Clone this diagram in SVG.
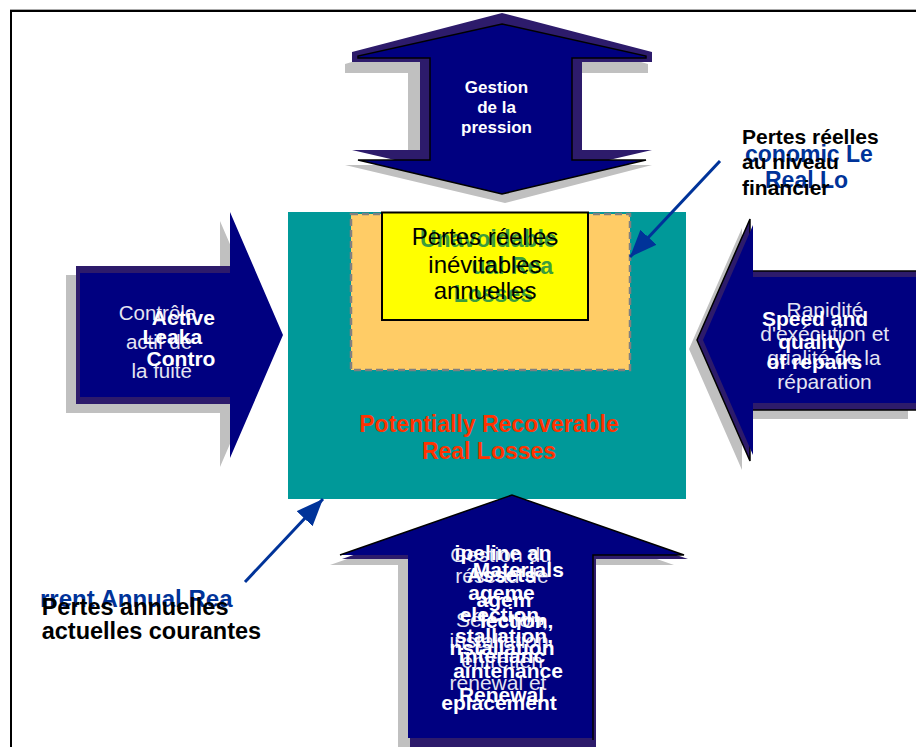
<svg xmlns="http://www.w3.org/2000/svg" width="916" height="747" viewBox="0 0 916 747">
<defs>
<style>
text{font-family:"Liberation Sans",Arial,sans-serif;}
.shadow{fill:#c0c0c0;}
.back{fill:#2d1b6b;}
.front{fill:#000080;}
.edge{fill:none;stroke:#000;stroke-width:1.5;stroke-linejoin:miter;}
.wb{fill:#fff;font-weight:bold;text-anchor:middle;}
.wr{fill:#e4e4f2;text-anchor:middle;}
.lbl{fill:#000;font-weight:bold;}
.blu{fill:#003399;font-weight:bold;}
.conn{stroke:#003399;stroke-width:3;fill:none;}
</style>
<marker id="ah" markerUnits="userSpaceOnUse" markerWidth="30" markerHeight="24" refX="27" refY="11" orient="auto">
<path d="M0,0 L27,11 L0,22 Z" fill="#003399"/>
</marker>
</defs>
<rect width="916" height="747" fill="#fff"/>
<g id="frame">
<line x1="10" y1="9.5" x2="916" y2="9.5" stroke="#aaa" stroke-width="1"/>
<line x1="10" y1="11" x2="916" y2="11" stroke="#000" stroke-width="2"/>
<line x1="11" y1="10" x2="11" y2="747" stroke="#000" stroke-width="2"/>
</g>

<g id="center-box">
<rect x="288" y="212" width="398" height="287" fill="#009999"/>
<rect x="351" y="214" width="279" height="156" fill="#FFCC66" stroke="#808080" stroke-width="2.5" stroke-dasharray="7,4"/>
<rect x="382" y="212.5" width="206" height="107.5" fill="#FFFF00" stroke="#000" stroke-width="2"/>
<g font-weight="bold" font-size="23" fill="#3c9c3c" text-anchor="middle">
<text x="488.3" y="247">Unavoidable</text>
<text x="553" y="274" text-anchor="end">ual Rea</text>
<text x="493.3" y="301.5">Losses</text>
</g>
<g font-size="24" fill="#000" text-anchor="middle">
<text x="485" y="245">Pertes réelles</text>
<text x="485" y="272.5">inévitables</text>
<text x="485" y="299">annuelles</text>
</g>
<g font-weight="bold" font-size="23" fill="#FF3300" text-anchor="middle">
<text x="489" y="432">Potentially Recoverable</text>
<text x="489" y="459">Real Losses</text>
</g>
</g>

<g id="arrow-top">
<path class="shadow" d="M495,20 L648,64 L648,73 L580,73 L580,165 L652,165 L505,203 L345,165 L408,165 L408,73 L345,73 L345,64 Z"/>
<path class="back" d="M502,13 L652,52 L652,62 L582,62 L582,150 L652,150 L502,185 L352,150 L420,150 L420,62 L352,62 L352,52 Z"/>
<path class="front" d="M502,24 L646,56 L646,58 L572,58 L572,160 L646,160 L502,194 L358,160 L430,160 L430,58 L358,58 L358,56 Z"/>
<path class="edge" d="M502,24 L646,56 L646,58 L572,58 L572,160 L646,160 L502,194 L358,160 L430,160 L430,58 L358,58 L358,56 Z"/>
<text class="wb" font-size="17" x="496.5" y="93">Gestion</text>
<text class="wb" font-size="17" x="496.5" y="112.7">de la</text>
<text class="wb" font-size="17" x="496.5" y="132.7">pression</text>
</g>

<g id="arrow-left">
<path class="shadow" d="M66,275 L220,275 L220,221 L273,344 L220,467 L220,413 L66,413 Z"/>
<rect class="back" x="76" y="266" width="156" height="138"/>
<path class="front" d="M80,273 L230,273 L230,212 L283,335 L230,458 L230,397 L80,397 Z"/>
<text class="wr" font-size="20.5" x="157.5" y="320">Contrôle</text>
<text class="wr" font-size="20.5" x="159" y="349">actif de</text>
<text class="wr" font-size="20.5" x="161.7" y="378">la fuite</text>
<text class="wb" font-size="21" x="183.3" y="325">Active</text>
<text class="wb" font-size="21" x="172.3" y="344">Leaka</text>
<text class="wb" font-size="21" x="181" y="365.7">Contro</text>
</g>

<g id="arrow-right">
<path class="shadow" d="M689,349 L742,228 L742,280 L908,280 L908,419 L742,419 L742,470 Z"/>
<path class="back" d="M697,340 L750,219 L750,271 L920,271 L920,410 L750,410 L750,461 Z"/>
<path class="edge" d="M920,271 L750,271 L750,219 L697,340 L750,461 L750,410 L920,410"/>
<path class="front" d="M703,340 L753,225 L753,277 L920,277 L920,403 L753,403 L753,455 Z"/>
<text class="wr" font-size="21" x="825" y="317">Rapidité</text>
<text class="wr" font-size="21" x="824.7" y="341">d'exécution et</text>
<text class="wr" font-size="21" x="824" y="365">qualité de la</text>
<text class="wr" font-size="21" x="824.5" y="389">réparation</text>
<text class="wb" font-size="21" x="815" y="326">Speed and</text>
<text class="wb" font-size="21" x="812" y="349">quality</text>
<text class="wb" font-size="21" x="814.3" y="369">of repairs</text>
</g>

<g id="arrow-bottom">
<path class="shadow" d="M502,505 L674,565 L583,565 L583,748 L398,748 L398,565 L330,565 Z"/>
<path class="back" d="M514,499 L688,559 L596,559 L596,750 L410,750 L410,559 L342,559 Z"/>
<path class="front" d="M512,495 L684,555 L593,555 L593,738 L408,738 L408,555 L340,555 Z"/>
<path class="edge" d="M340,555 L512,495 L684,555 L593,555 L593,740"/>
<text class="wr" font-size="21" x="501" y="562">Gestion du</text>
<text class="wr" font-size="21" x="502" y="583">réseau de</text>
<text class="wr" font-size="21" x="502" y="627">Sélection,</text>
<text class="wr" font-size="21" x="502" y="648">installation,</text>
<text class="wr" font-size="21" x="502" y="668">entretien</text>
<text class="wr" font-size="21" x="498" y="690">renewal et</text>
<text class="wb" font-size="21" x="503" y="560">ipeline an</text>
<text class="wb" font-size="21" x="518.3" y="577">Materials</text>
<text class="wb" font-size="21" x="501.5" y="582">Assets</text>
<text class="wb" font-size="21" x="501.5" y="600">ageme</text>
<text class="wb" font-size="21" x="504" y="607">agem</text>
<text class="wb" font-size="21" x="502.3" y="622">election,</text>
<text class="wb" font-size="21" x="516.7" y="628">lection,</text>
<text class="wb" font-size="21" x="504" y="643">stallation,</text>
<text class="wb" font-size="21" x="502" y="655">nstallation</text>
<text class="wb" font-size="21" x="502" y="663">intenanc</text>
<text class="wb" font-size="21" x="508" y="678">aintenance</text>
<text class="wb" font-size="21" x="501.5" y="702">Renewal</text>
<text class="wb" font-size="21" x="499" y="710">eplacement</text>
</g>

<g id="label-top-right">
<text class="blu" font-size="23" x="745" y="162">conomic Le</text>
<text class="blu" font-size="23" x="765" y="188">Real Lo</text>
<text class="lbl" font-size="21" x="742" y="144">Pertes réelles</text>
<text class="lbl" font-size="21" x="742" y="169.3">au niveau</text>
<text class="lbl" font-size="21" x="742" y="195">financier</text>
</g>

<g id="label-bottom-left">
<text class="blu" font-size="24" x="40" y="606.7">rrent Annual Rea</text>
<text class="lbl" font-size="23.5" x="41.7" y="615">Pertes annuelles</text>
<text class="lbl" font-size="23.5" x="41.7" y="639">actuelles courantes</text>
</g>

<g id="connectors">
<line class="conn" x1="720" y1="161" x2="630" y2="257" marker-end="url(#ah)"/>
<line class="conn" x1="245" y1="582" x2="323" y2="499" marker-end="url(#ah)"/>
</g>
</svg>
